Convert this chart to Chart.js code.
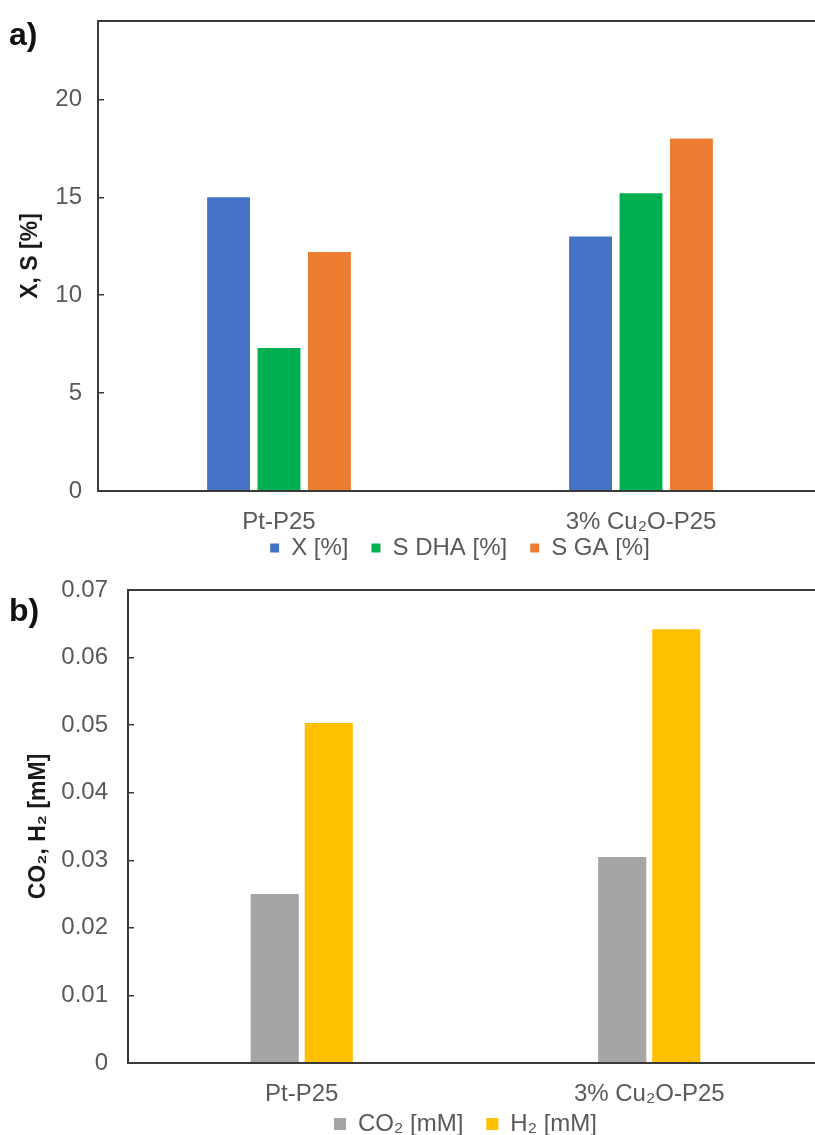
<!DOCTYPE html>
<html>
<head>
<meta charset="utf-8">
<script src="https://cdn.jsdelivr.net/npm/chart.js@4.4.0/dist/chart.umd.min.js"></script>
<style>
  body { margin: 0; width: 815px; height: 1135px; overflow: hidden; background: #fff; position: relative; }
  .box { position: absolute; left: 0; width: 870px; }
  #boxA { top: 0; height: 570px; }
  #boxB { top: 566px; height: 580px; }
  .tag { position: absolute; left: 9px; font: bold 32px "Liberation Sans Narrow", "Liberation Sans", sans-serif; color: #111; }
</style>
</head>
<body>
<div class="box" id="boxA"><canvas id="chartA"></canvas></div>
<div class="box" id="boxB"><canvas id="chartB"></canvas></div>
<div class="tag" style="top:16px">a)</div>
<div class="tag" style="top:592px">b)</div>

<script>
'use strict';

// categories and values
let categories = ['Pt-P25', '3% Cu\u2082O-P25'];
let convX = [15.0, 13.0];
let selDHA = [7.3, 15.2];
let selGA = [12.2, 18.0];
let ticksA = [0, 5, 10, 15, 20];

let co2 = [0.025, 0.0305];
let h2 = [0.0503, 0.0642];

let tickGrey = '#595959';
let axisFont = 'Liberation Sans';

// plot frame like the excel chart
let frame = {
    id: 'frame',
    afterDraw(chart) {
        let a = chart.chartArea;
        let ctx = chart.ctx;
        ctx.save();
        ctx.strokeStyle = '#3a3a3a';
        ctx.lineWidth = 2;
        ctx.strokeRect(a.left, a.top, a.right - a.left, a.bottom - a.top);
        ctx.restore();
    }
};

function yAxis(width, title, titlePad, opts) {
    return Object.assign({
        beginAtZero: true,
        // fixed axis width, and no extra room above the plot for the labels
        afterFit: function (s) { s.width = width; s.paddingTop = 0; s.paddingBottom = 0; },
        border: { display: false },
        grid: { drawOnChartArea: false, tickLength: -6, color: '#3a3a3a', lineWidth: 1.5 },
        title: { display: true, text: title, color: '#1a1a1a', padding: { top: titlePad, bottom: 0 },
                 font: { family: axisFont, size: 23, weight: 'bold' } }
    }, opts);
}

function xAxis(height, pad) {
    return {
        afterFit: function (s) { s.height = height; },
        border: { display: false },
        grid: { display: false, drawTicks: false },
        ticks: { color: tickGrey, padding: pad, font: { family: axisFont, size: 24 } }
    };
}

// legend items sit close to the axis labels, so the gap between items is made with spaces
function legendOpts(box, gap, lastToo) {
    return {
        position: 'bottom',
        fullSize: false,
        labels: {
            boxWidth: box, boxHeight: box, padding: 3, color: tickGrey,
            font: { family: axisFont, size: 24 },
            generateLabels: function (chart) {
                let items = Chart.defaults.plugins.legend.labels.generateLabels(chart);
                items.forEach(function (it, i) {
                    if (lastToo || i < items.length - 1) it.text = it.text + gap;
                });
                return items;
            }
        }
    };
}

function chartRenderA() {
    let ctx = document.getElementById('chartA').getContext('2d');
    new Chart(ctx, {
        type: 'bar',
        data: {
            labels: categories,
            datasets: [
                { label: 'X [%]', data: convX, backgroundColor: '#4472C4' },
                { label: 'S DHA [%]', data: selDHA, backgroundColor: '#00B050' },
                { label: 'S GA [%]', data: selGA, backgroundColor: '#ED7D31' }
            ]
        },
        options: {
            responsive: true,
            maintainAspectRatio: false,
            animation: false,
            categoryPercentage: 0.418,
            barPercentage: 0.85,
            layout: { padding: { top: 21, right: 48, left: 0, bottom: 0 } },
            plugins: { legend: legendOpts(9, '   ', false), tooltip: { enabled: false } },
            scales: {
                x: xAxis(42, 17),
                y: yAxis(98, 'X, S [%]', 17, {
                    min: 0, max: 24,
                    ticks: { color: tickGrey, padding: 22, font: { family: axisFont, size: 24 } },
                    afterBuildTicks: function (s) {
                        s.ticks = ticksA.map(function (v) { return { value: v }; });
                    }
                })
            }
        },
        plugins: [frame]
    });
}

function chartRenderB() {
    let ctx = document.getElementById('chartB').getContext('2d');
    new Chart(ctx, {
        type: 'bar',
        data: {
            labels: categories,
            datasets: [
                { label: 'CO\u2082 [mM]', data: co2, backgroundColor: '#A5A5A5' },
                { label: 'H\u2082 [mM]', data: h2, backgroundColor: '#FFC000' }
            ]
        },
        options: {
            responsive: true,
            maintainAspectRatio: false,
            animation: false,
            categoryPercentage: 0.311,
            barPercentage: 0.89,
            layout: { padding: { top: 24, right: 47, left: 0, bottom: 0 } },
            plugins: { legend: legendOpts(12, '   ', true), tooltip: { enabled: false } },
            scales: {
                x: xAxis(46, 17),
                y: yAxis(128, 'CO\u2082, H\u2082 [mM]', 25, {
                    min: 0, max: 0.07,
                    ticks: { stepSize: 0.01, color: tickGrey, padding: 26, font: { family: axisFont, size: 24 } }
                })
            }
        },
        plugins: [frame]
    });
}

chartRenderA();
chartRenderB();
</script>
</body>
</html>
